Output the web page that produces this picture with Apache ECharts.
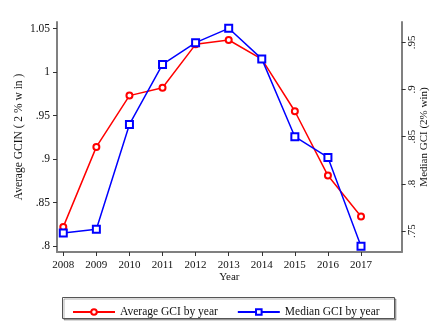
<!DOCTYPE html>
<html><head><meta charset="utf-8">
<script src="https://cdn.jsdelivr.net/npm/echarts@6/dist/echarts.min.js"></script>
<style>html,body{margin:0;padding:0;background:#fff}#c{width:440px;height:331px}</style>
</head><body><div id="c"></div>
<script>
var years = [2008, 2009, 2010, 2011, 2012, 2013, 2014, 2015, 2016, 2017];
var averageGCI = [0.822, 0.914, 0.973, 0.982, 1.032, 1.037, 1.015, 0.955, 0.881, 0.834];
var medianGCI = [0.748, 0.752, 0.863, 0.9265, 0.9496, 0.9648, 0.9324, 0.850, 0.828, 0.734];
var leftTicks = [0.8, 0.85, 0.9, 0.95, 1, 1.05];
var rightTicks = [0.75, 0.8, 0.85, 0.9, 0.95];
var yearTicks = years.slice();

var FONT = 'Liberation Serif';
function fmt(v){ return String(+(+v).toFixed(2)).replace(/^0\./, '.'); }

var chart = echarts.init(document.getElementById('c'), null, {renderer: 'canvas'});
chart.setOption({
  animation: false,
  backgroundColor: '#fff',
  textStyle: {fontFamily: FONT},
  grid: {left: 57, right: 38.3, top: 22, bottom: 79, containLabel: false, outerBoundsMode: 'none'},
  xAxis: {
    type: 'value', min: 2007.81, max: 2018.23,
    name: 'Year', nameLocation: 'middle', nameGap: 20, nameMoveOverlap: false,
    nameTextStyle: {fontFamily: FONT, fontSize: 11, color: '#111'},
    axisLine: {lineStyle: {color: '#808080', width: 2}},
    axisTick: {customValues: yearTicks, length: 4, lineStyle: {color: '#333'}},
    axisLabel: {customValues: yearTicks, margin: 8, fontFamily: FONT, fontSize: 11, color: '#111', formatter: function(v){return String(v);}},
    splitLine: {show: false}
  },
  yAxis: [{
    type: 'value', min: 0.7931, max: 1.0577, position: 'left',
    name: 'Average GCIN ( 2 % w in )', nameLocation: 'middle', nameGap: 32, nameRotate: 90, nameMoveOverlap: false,
    nameTextStyle: {fontFamily: FONT, fontSize: 11.5, color: '#111'},
    axisLine: {show: true, lineStyle: {color: '#808080', width: 2}},
    axisTick: {show: true, customValues: leftTicks, length: 4, lineStyle: {color: '#333'}},
    axisLabel: {customValues: leftTicks, margin: 7, fontFamily: FONT, fontSize: 11.5, color: '#111', formatter: fmt},
    splitLine: {show: false}
  }, {
    type: 'value', min: 0.7278, max: 0.9715, position: 'right',
    name: 'Median GCI (2% win)', nameLocation: 'middle', nameGap: 17, nameRotate: 90, nameMoveOverlap: false,
    nameTextStyle: {fontFamily: FONT, fontSize: 11, color: '#111'},
    axisLine: {show: true, lineStyle: {color: '#808080', width: 2}},
    axisTick: {show: true, customValues: rightTicks, length: 4, lineStyle: {color: '#333'}},
    axisLabel: {customValues: rightTicks, rotate: 90, margin: 5, fontFamily: FONT, fontSize: 11, color: '#111', formatter: fmt},
    splitLine: {show: false}
  }],
  legend: {
    left: 67, top: 301, itemWidth: 42, itemHeight: 7, itemGap: 19, itemTextGap: 7,
    textStyle: {fontFamily: FONT, fontSize: 11.5, color: '#111'},
    data: ['Average GCI by year', 'Median GCI by year']
  },
  graphic: [{
    type: 'rect', left: 62, top: 297, z: -1,
    shape: {width: 332, height: 21},
    style: {fill: '#fff', stroke: '#555', lineWidth: 1, shadowColor: 'rgba(0,0,0,0.3)', shadowOffsetX: 1.5, shadowOffsetY: 1.5, shadowBlur: 0}
  }],
  series: [{
    name: 'Average GCI by year', type: 'line', yAxisIndex: 0,
    data: years.map(function(y, i){ return [y, averageGCI[i]]; }),
    symbol: 'emptyCircle', symbolSize: 6,
    lineStyle: {color: '#ff0000', width: 1.5},
    itemStyle: {color: '#ff0000', borderColor: '#ff0000', borderWidth: 1.5}
  }, {
    name: 'Median GCI by year', type: 'line', yAxisIndex: 1,
    data: years.map(function(y, i){ return [y, medianGCI[i]]; }),
    symbol: 'emptyRect', symbolSize: 7,
    lineStyle: {color: '#0000ff', width: 1.5},
    itemStyle: {color: '#0000ff', borderColor: '#0000ff', borderWidth: 1.5}
  }]
});
</script></body></html>
